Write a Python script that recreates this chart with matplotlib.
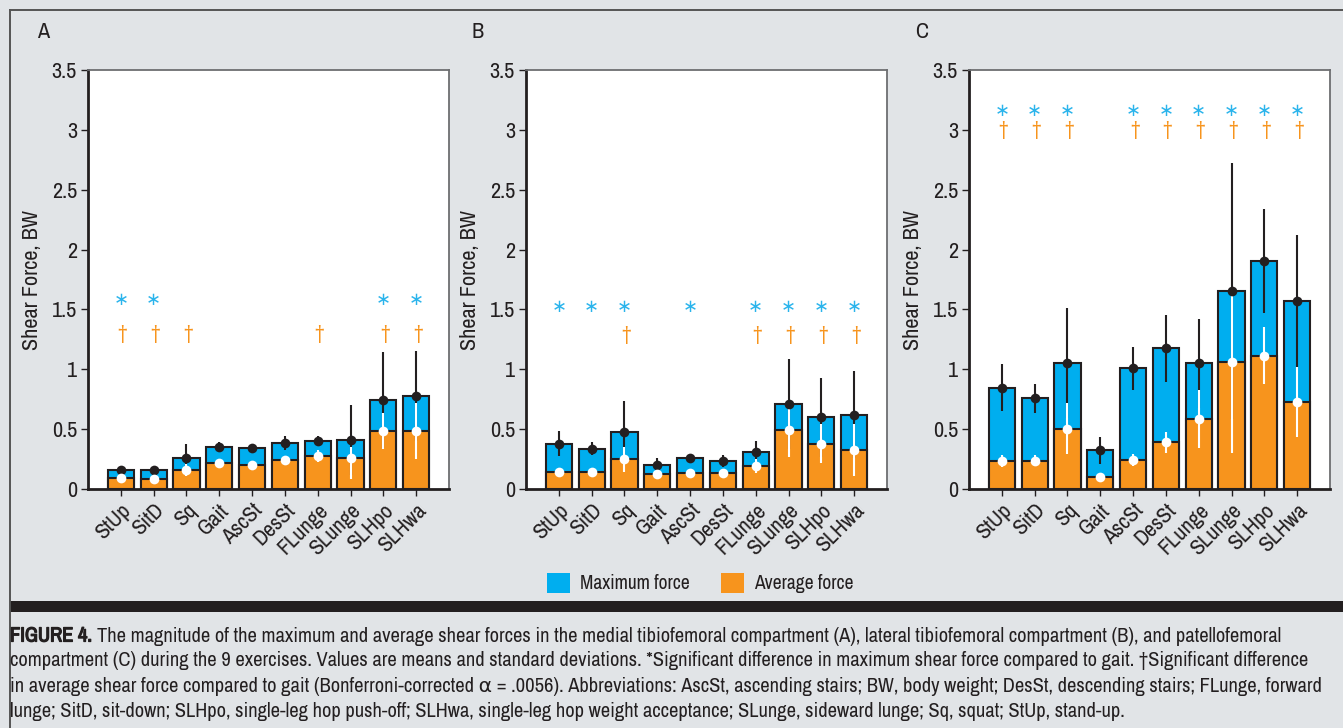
import matplotlib
matplotlib.use("Agg")
import matplotlib.pyplot as plt
import matplotlib.transforms as mtransforms
import matplotlib.patheffects as pe
from matplotlib.patches import Patch, Rectangle
from matplotlib.lines import Line2D
import numpy as np

FONT = ['Archivo Narrow', 'DejaVu Sans']
plt.rcParams['font.family'] = FONT

exercises = ["StUp", "SitD", "Sq", "Gait", "AscSt", "DesSt", "FLunge", "SLunge", "SLHpo", "SLHwa"]
yticks = [0, 0.5, 1, 1.5, 2, 2.5, 3, 3.5]
ytick_labels = ["0", "0.5", "1", "1.5", "2", "2.5", "3", "3.5"]
panel_letters = ["A", "B", "C"]

# Panel A: medial tibiofemoral
max_A = [0.16, 0.16, 0.26, 0.355, 0.345, 0.383, 0.403, 0.41, 0.744, 0.775]
max_sd_A = [0.03, 0.02, 0.12, 0.04, 0.035, 0.06, 0.04, 0.29, 0.40, 0.375]
avg_A = [0.088, 0.082, 0.16, 0.22, 0.20, 0.24, 0.275, 0.257, 0.485, 0.485]
avg_lo_A = [0.02, 0.015, 0.05, 0.02, 0.015, 0.02, 0.05, 0.175, 0.15, 0.235]
avg_hi_A = [0.02, 0.015, 0.05, 0.02, 0.015, 0.02, 0.05, 0.09, 0.15, 0.235]
star_A = [1, 1, 0, 0, 0, 0, 0, 0, 1, 1]
dag_A = [1, 1, 1, 0, 0, 0, 1, 0, 1, 1]

# Panel B: lateral tibiofemoral
max_B = [0.38, 0.335, 0.478, 0.20, 0.26, 0.236, 0.31, 0.71, 0.60, 0.62]
max_sd_B = [0.105, 0.055, 0.26, 0.06, 0.03, 0.05, 0.09, 0.38, 0.33, 0.365]
avg_B = [0.14, 0.14, 0.247, 0.122, 0.136, 0.13, 0.192, 0.49, 0.38, 0.327]
avg_lo_B = [0.015, 0.015, 0.105, 0.02, 0.015, 0.015, 0.055, 0.22, 0.165, 0.22]
avg_hi_B = [0.015, 0.015, 0.105, 0.02, 0.015, 0.015, 0.055, 0.18, 0.165, 0.22]
star_B = [1, 1, 1, 0, 1, 0, 1, 1, 1, 1]
dag_B = [0, 0, 1, 0, 0, 0, 1, 1, 1, 1]

# Panel C: patellofemoral
max_C = [0.845, 0.758, 1.055, 0.322, 1.007, 1.177, 1.05, 1.655, 1.905, 1.572]
max_sd_C = [0.195, 0.12, 0.46, 0.115, 0.18, 0.28, 0.37, 1.07, 0.435, 0.55]
avg_C = [0.231, 0.238, 0.504, 0.10, 0.242, 0.39, 0.584, 1.062, 1.115, 0.728]
avg_lo_C = [0.05, 0.045, 0.215, 0.035, 0.05, 0.09, 0.245, 0.76, 0.24, 0.29]
avg_hi_C = [0.05, 0.045, 0.215, 0.035, 0.05, 0.09, 0.245, 0.58, 0.24, 0.29]
star_C = [1, 1, 1, 0, 1, 1, 1, 1, 1, 1]
dag_C = [1, 1, 1, 0, 1, 1, 1, 1, 1, 1]

star_y = [1.58, 1.52, 3.16]
dag_y = [1.30, 1.29, 3.00]

BLUE = "#00aeef"
ORANGE = "#f7941d"
STAR = "#2ab4ec"
DARK = "#231f20"
BG = "#e1e4e7"

W, H = 1343, 728
fig = plt.figure(figsize=(W / 100, H / 100), dpi=100)
fig.patch.set_facecolor(BG)

# outer frame lines
fig.add_artist(Line2D([10 / W, 1.0], [1 - 10 / H, 1 - 10 / H], color="#555555", lw=1.4, transform=fig.transFigure))
fig.add_artist(Line2D([10 / W, 10 / W], [0, 1 - 10 / H], color="#555555", lw=1.4, transform=fig.transFigure))
# dark band
fig.add_artist(Rectangle((10 / W, 1 - 612 / H), 1 - 10 / W, 11 / H, color=DARK, transform=fig.transFigure, lw=0))

panels = [
    (max_A, max_sd_A, avg_A, avg_lo_A, avg_hi_A, star_A, dag_A),
    (max_B, max_sd_B, avg_B, avg_lo_B, avg_hi_B, star_B, dag_B),
    (max_C, max_sd_C, avg_C, avg_lo_C, avg_hi_C, star_C, dag_C),
]
lefts = [88, 526, 969]
letter_x = [37, 471, 915]
x = np.arange(len(exercises))
TFS = 16

for i, (mx, mxsd, av, avlo, avhi, st, dg) in enumerate(panels):
    ax = fig.add_axes([lefts[i] / W, 1 - 489 / H, 361 / W, 419 / H])
    ax.set_facecolor("white")
    ax.bar(x, mx, width=0.8, color=BLUE, edgecolor=DARK, linewidth=1.5, zorder=2)
    ax.bar(x, av, width=0.8, color=ORANGE, edgecolor=DARK, linewidth=1.5, zorder=2.1)
    ax.errorbar(x, mx, yerr=mxsd, fmt="none", ecolor=DARK, elinewidth=1.5, capsize=0, zorder=3)
    ax.errorbar(x, av, yerr=[avlo, avhi], fmt="none", ecolor="white", elinewidth=1.5, capsize=0, zorder=4)
    ax.plot(x, mx, "o", color=DARK, markersize=7, markeredgewidth=0, zorder=5)
    ax.plot(x, av, "o", color="white", markersize=7, markeredgewidth=0, zorder=6)
    for j in range(len(exercises)):
        if st[j]:
            ax.text(x[j], star_y[i], "∗", color=STAR, fontsize=13, ha="center", va="center",
                    family=["DejaVu Sans"], zorder=7)
        if dg[j]:
            ax.text(x[j] + 0.05, dag_y[i], "†", color=ORANGE, fontsize=15, ha="center", va="center", zorder=7)
    ax.set_xlim(-1, 10)
    ax.set_ylim(0, 3.5)
    ax.set_yticks(yticks)
    ax.set_yticklabels(ytick_labels, fontsize=TFS, color=DARK)
    ax.set_xticks(x)
    ax.set_xticklabels(exercises, fontsize=TFS, color=DARK, rotation=45, ha="right", va="top",
                       rotation_mode="anchor")
    off = mtransforms.ScaledTranslation(10 / 100, -3 / 100, fig.dpi_scale_trans)
    for lab in ax.get_xticklabels():
        lab.set_transform(lab.get_transform() + off)
    ax.tick_params(axis="both", direction="out", length=5, width=1, color=DARK, pad=3)
    for s in ["left", "bottom"]:
        ax.spines[s].set_color(DARK)
        ax.spines[s].set_linewidth(2)
    for s in ["top", "right"]:
        ax.spines[s].set_color("#6d6e71")
        ax.spines[s].set_linewidth(1.3)
    ax.set_ylabel("Shear Force, BW", fontsize=TFS, color=DARK)
    ax.yaxis.set_label_coords(-46 / 361, 0.5)
    fig.text(letter_x[i] / W, 1 - 32 / H, panel_letters[i], fontsize=TFS, color=DARK, ha="left", va="center")

# legend
handles = [Patch(facecolor=BLUE, edgecolor="none", label="Maximum force"),
           Patch(facecolor=ORANGE, edgecolor="none", label="Average force")]
fig.legend(handles=handles, loc="center", bbox_to_anchor=(700 / W, 1 - 583 / H), ncol=2, frameon=False,
           fontsize=14, handlelength=1.2, handleheight=1.25, handletextpad=0.5, columnspacing=1.6,
           labelcolor=DARK)

# caption
cap_first = "The magnitude of the maximum and average shear forces in the medial tibiofemoral compartment (A), " \
            "lateral tibiofemoral compartment (B), and patellofemoral"
lines = [
    "compartment (C) during the 9 exercises. Values are means and standard deviations. *Significant difference "
    "in maximum shear force compared to gait. †Significant difference",
    "in average shear force compared to gait (Bonferroni-corrected α = .0056). Abbreviations: AscSt, ascending "
    "stairs; BW, body weight; DesSt, descending stairs; FLunge, forward",
    "lunge; SitD, sit-down; SLHpo, single-leg hop push-off; SLHwa, single-leg hop weight acceptance; SLunge, "
    "sideward lunge; Sq, squat; StUp, stand-up.",
]
r = fig.canvas.get_renderer()
cap_fs = 13.5
probe = fig.text(0, 0, lines[1], fontsize=cap_fs)
wid = probe.get_window_extent(renderer=r).width
probe.remove()
cap_fs = cap_fs * (1312 / wid)

t0 = fig.text(10 / W, 1 - 636 / H, "FIGURE 4.", fontsize=cap_fs, color=DARK, ha="left", va="center",
              path_effects=[pe.withStroke(linewidth=0.9, foreground=DARK)])
bb = t0.get_window_extent(renderer=r)
fig.text((bb.x1 + 5) / W, 1 - 636 / H, cap_first, fontsize=cap_fs, color=DARK, ha="left", va="center")
for k, ln in enumerate(lines):
    fig.text(10 / W, 1 - (661 + 25.3 * k) / H, ln, fontsize=cap_fs, color=DARK, ha="left", va="center")

fig.savefig("out.png", dpi=100, facecolor=BG)
